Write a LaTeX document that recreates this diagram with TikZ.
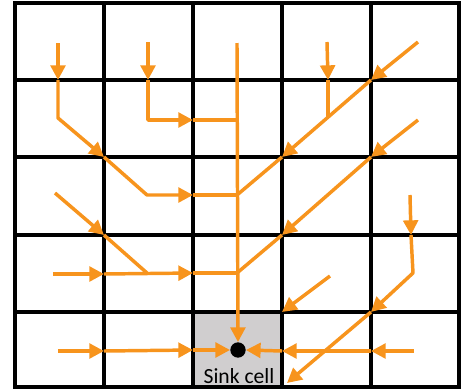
\documentclass[tikz,border=0pt]{standalone}
\usepackage{fontspec}
\setmainfont{Carlito}
\usetikzlibrary{arrows.meta}
\definecolor{flow}{HTML}{F7941D}
\definecolor{sinkgrey}{HTML}{D0CECF}
\tikzset{
  gridline/.style={line width=3.2pt, black},
  flowline/.style={line width=2.6pt, flow, line join=round},
  flowarrow/.style={flowline, -{Triangle[length=11pt,width=11pt]}},
}
\begin{document}
\begin{tikzpicture}[x=0.75pt,y=-0.75pt]
\useasboundingbox (0,0) rectangle (462,390);
% sink cell fill
\fill[sinkgrey] (193,312) rectangle (282,388);
% grid
\foreach \x in {104,193,282,371} \draw[gridline] (\x,3) -- (\x,387);
\foreach \y in {80,157,235,312} \draw[gridline] (15,\y) -- (459,\y);
\draw[gridline] (15,3) rectangle (459,387);
% sink
\node[circle, fill=black, inner sep=0pt, minimum size=11.5pt] (sink) at (238,350) {};
\node[font=\fontsize{16.2}{19}\selectfont, inner sep=0pt] (label) at (239,376) {Sink cell};
% coordinates
\coordinate (m1) at (237,43);
\coordinate (m2) at (237,120);
\coordinate (m3) at (237,195);
\coordinate (m4) at (237,273);
\coordinate (a1) at (58,43);  \coordinate (a2) at (58,80);  \coordinate (a3) at (58,118);
\coordinate (a4) at (104,157); \coordinate (a5) at (147,195); \coordinate (a6) at (193,195);
\coordinate (b1) at (148,42); \coordinate (b2) at (148,80); \coordinate (b3) at (148,120);
\coordinate (b4) at (193,120);
\coordinate (c1) at (327,42); \coordinate (c2) at (328,80); \coordinate (c3) at (328,118);
\coordinate (d1) at (418,42); \coordinate (d2) at (371,80); \coordinate (d3) at (282,157);
\coordinate (e1) at (418,120); \coordinate (e2) at (371,157); \coordinate (e3) at (282,235);
\coordinate (f1) at (55,193); \coordinate (f2) at (104,235); \coordinate (f3) at (147,273);
\coordinate (g1) at (53,274); \coordinate (g2) at (104,274); \coordinate (g3) at (193,273);
\coordinate (h1) at (58,351); \coordinate (h2) at (104,351); \coordinate (h3) at (193,350);
\coordinate (i1) at (410,195); \coordinate (i2) at (411,235); \coordinate (i3) at (413,273);
\coordinate (i4) at (371,312); \coordinate (i5) at (287,383);
\coordinate (j1) at (330,276); \coordinate (j2) at (282,312);
\coordinate (k1) at (414,351); \coordinate (k2) at (371,351); \coordinate (k3) at (282,351);
% main trunk
\draw[flowarrow] (m1) -- (sink.north);
% path A
\draw[flowarrow] (a1) -- (a2);
\draw[flowarrow] (a2) -- (a3) -- (a4);
\draw[flowarrow] (a4) -- (a5) -- (a6);
\draw[flowline] (a6) -- (m3);
% path B
\draw[flowarrow] (b1) -- (b2);
\draw[flowarrow] (b2) -- (b3) -- (b4);
\draw[flowline] (b4) -- (m2);
% path C
\draw[flowarrow] (c1) -- (c2);
\draw[flowline] (c2) -- (c3);
% path D
\draw[flowarrow] (d1) -- (d2);
\draw[flowarrow] (d2) -- (d3);
\draw[flowline] (d3) -- (m3);
% path E
\draw[flowarrow] (e1) -- (e2);
\draw[flowarrow] (e2) -- (e3);
\draw[flowline] (e3) -- (m4);
% path F
\draw[flowarrow] (f1) -- (f2);
\draw[flowline] (f2) -- (f3);
% path G
\draw[flowarrow] (g1) -- (g2);
\draw[flowarrow] (g2) -- (g3);
\draw[flowline] (g3) -- (m4);
% path H
\draw[flowarrow] (h1) -- (h2);
\draw[flowarrow] (h2) -- (h3);
\draw[flowarrow] (h3) -- (sink.west);
% path I
\draw[flowarrow] (i1) -- (i2);
\draw[flowarrow] (i2) -- (i3) -- (i4);
\draw[flowarrow] (i4) -- (i5);
% path J
\draw[flowarrow] (j1) -- (j2);
% path K
\draw[flowarrow] (k1) -- (k2);
\draw[flowarrow] (k2) -- (k3);
\draw[flowarrow] (k3) -- (sink.east);
\end{tikzpicture}
\end{document}
